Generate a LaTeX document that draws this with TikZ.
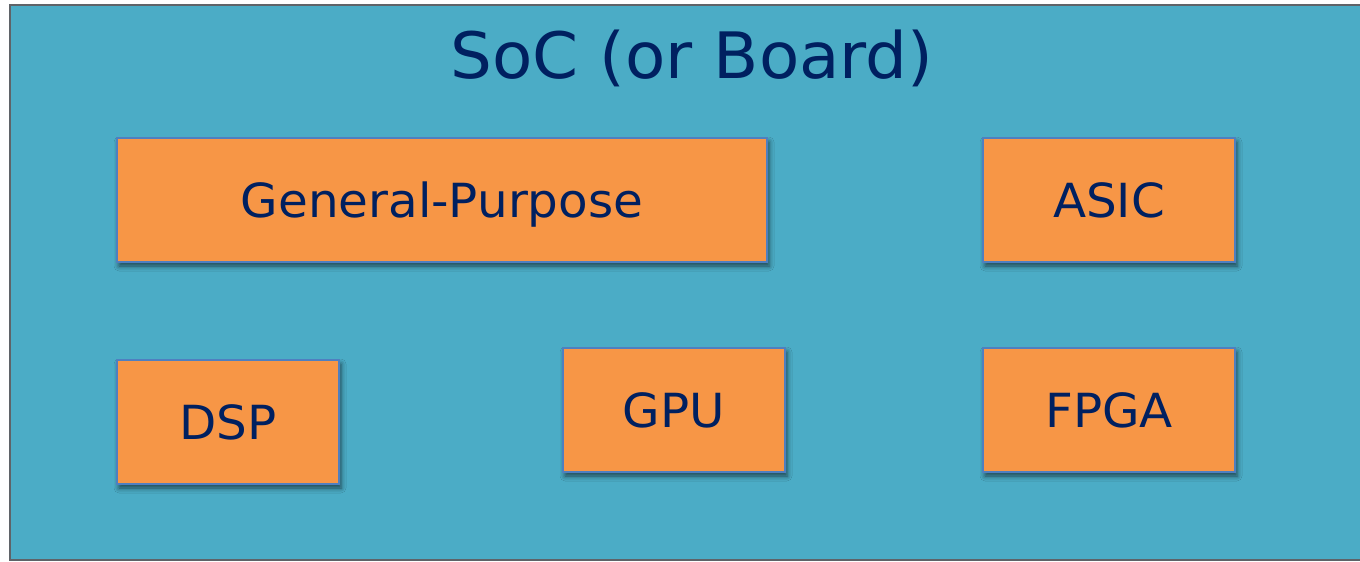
\documentclass[tikz,border=0pt]{standalone}
\usepackage{fontspec}
\setmainfont[FakeStretch=1.03]{DejaVu Sans}
\usetikzlibrary{shadows.blur}
\definecolor{soc}{HTML}{4BACC6}
\definecolor{socline}{HTML}{5F6368}
\definecolor{blk}{HTML}{F79646}
\definecolor{blkline}{HTML}{4F7FC0}
\definecolor{txt}{HTML}{002060}
\tikzset{
  x=1pt, y=-1pt,
  blockbox/.style={draw=blkline, line width=1.5pt, fill=blk, text=txt,
    font=\fontsize{47}{56}\selectfont, inner sep=0pt, text height=35pt, text depth=0pt,
    blur shadow={shadow xshift=2pt, shadow yshift=-4pt, shadow blur radius=5pt, shadow opacity=60}},
  title/.style={text=txt, font=\fontsize{64}{76}\selectfont, inner sep=0pt}
}
\begin{document}
\begin{tikzpicture}
\useasboundingbox (0,0) rectangle (1360,562);
\fill[white] (0,0) rectangle (1360,562);
\draw[socline, line width=2pt, fill=soc] (10,5) rectangle (1370,560);
\node[title, anchor=base] (t) at (692,78) {SoC (or Board)};
\node[blockbox, minimum width=650pt, minimum height=124pt] (gp) at (442,200) {General-Purpose};
\node[blockbox, minimum width=252pt, minimum height=124pt] (asic) at (1109,200) {ASIC};
\node[blockbox, minimum width=222pt, minimum height=124pt] (dsp) at (228,422) {DSP};
\node[blockbox, minimum width=222pt, minimum height=124pt] (gpu) at (674,410) {GPU};
\node[blockbox, minimum width=252pt, minimum height=124pt] (fpga) at (1109,410) {FPGA};
\end{tikzpicture}
\end{document}
